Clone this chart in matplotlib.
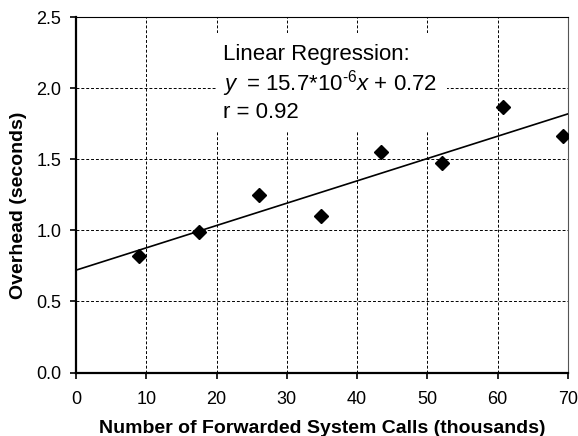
import numpy as np
import matplotlib.pyplot as plt
from matplotlib.patches import Rectangle

plt.rcParams['font.family'] = ['Liberation Sans', 'DejaVu Sans']
plt.rcParams['mathtext.fontset'] = 'custom'
plt.rcParams['mathtext.rm'] = 'Liberation Sans'
plt.rcParams['mathtext.it'] = 'Liberation Sans:italic'

# forwarded system calls (thousands) vs overhead (seconds)
calls = [9.0, 17.5, 26.1, 34.9, 43.4, 52.1, 60.7, 69.3]
overhead = [0.82, 0.99, 1.25, 1.10, 1.55, 1.47, 1.87, 1.66]
slope = 15.7e-3   # per thousand calls
intercept = 0.72
r_value = 0.92

fig, ax = plt.subplots(figsize=(5.78, 4.36), dpi=100)
fig.subplots_adjust(left=0.1315, right=0.9827, top=0.961, bottom=0.1455)

ax.set_xlim(0, 70)
ax.set_ylim(0, 2.5)
ax.set_xticks(np.arange(0, 71, 10))
ax.set_yticks(np.arange(0, 2.51, 0.5))
ax.yaxis.set_major_formatter(plt.FormatStrFormatter('%.1f'))
ax.grid(True, color='black', linestyle=(0, (3, 2)), linewidth=0.7)
ax.set_axisbelow(True)

xl = np.array([0, 70])
ax.plot(xl, slope * xl + intercept, color='black', linewidth=1.2, zorder=3)
ax.plot(calls, overhead, linestyle='none', marker='D', markersize=7,
        color='black', zorder=4)

# white box behind the regression text
ax.add_patch(Rectangle((20.1, 1.70), 32.7, 0.69, facecolor='white',
                       edgecolor='none', zorder=2.5))
ax.text(20.9, 2.197, 'Linear Regression:', fontsize=16, va='baseline',
        zorder=5)
ax.text(20.9, 1.986,
        '$\\it{y}$\u2009 = %.1f*10$^{\\text{-6}}$$\\it{x}$ + %.2f' % (slope * 1e3, intercept),
        fontsize=16, va='baseline', zorder=5)
ax.text(20.9, 1.789, 'r = %.2f' % r_value, fontsize=16, va='baseline',
        zorder=5)

for s in ['left', 'bottom']:
    ax.spines[s].set_linewidth(1.6)
ax.spines['top'].set_linewidth(0.8)
ax.spines['right'].set_linewidth(0.8)
ax.spines['right'].set_color('#555555')
ax.tick_params(direction='out', length=4.5, width=1.2, labelsize=13)
ax.tick_params(axis='x', pad=8.5)
ax.tick_params(axis='y', pad=6)

ax.set_xlabel('Number of Forwarded System Calls (thousands)', fontsize=14,
              fontweight='bold')
ax.set_ylabel('Overhead (seconds)', fontsize=14, fontweight='bold')
ax.xaxis.set_label_coords(0.5, -0.134)
ax.yaxis.set_label_coords(-0.099, 0.47)

fig.savefig('out.png')
